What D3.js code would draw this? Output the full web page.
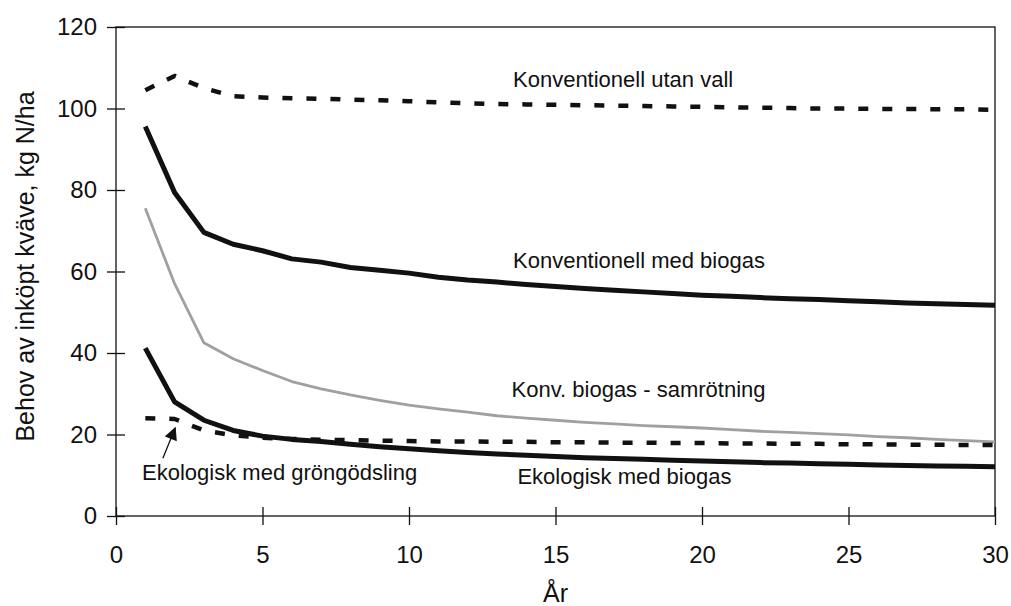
<!DOCTYPE html>
<html>
<head>
<meta charset="utf-8">
<script src="https://cdn.jsdelivr.net/npm/d3@7"></script>
<style>
  body { margin: 0; background: #fff; }
  text { font-family: "Liberation Sans", Arial, sans-serif; fill: #111; }
  .axis path, .axis line { stroke: #111; stroke-width: 1.3; }
  .axis text { font-size: 24px; }
</style>
</head>
<body>
<script>
// Years on x axis
var years = d3.range(1, 31);

// Series values, kg N/ha
var konvUtanVall = [104.5, 108, 105, 103, 102.7, 102.5, 102.4, 102.2, 102, 101.8,
  101.5, 101.3, 101.1, 101, 100.9, 100.8, 100.7, 100.6, 100.5, 100.4,
  100.3, 100.2, 100.1, 100, 100, 99.9, 99.9, 99.8, 99.8, 99.7];
var konvMedBiogas = [95.6, 79.4, 69.6, 66.7, 65.1, 63.1, 62.3, 61, 60.3, 59.6,
  58.6, 57.9, 57.4, 56.8, 56.3, 55.8, 55.4, 55, 54.6, 54.2,
  53.9, 53.6, 53.3, 53.1, 52.8, 52.6, 52.3, 52.1, 51.9, 51.7];
var konvSamrotning = [75.5, 57, 42.5, 38.6, 35.7, 33, 31.2, 29.7, 28.4, 27.2,
  26.3, 25.5, 24.6, 24, 23.5, 23, 22.6, 22.2, 21.9, 21.6,
  21.2, 20.8, 20.5, 20.2, 19.9, 19.5, 19.2, 18.8, 18.5, 18.2];
var ekoMedBiogas = [41.2, 28, 23.5, 21, 19.6, 18.8, 18.3, 17.6, 17, 16.5,
  16, 15.6, 15.2, 14.9, 14.6, 14.3, 14.1, 13.9, 13.7, 13.5,
  13.3, 13.1, 13, 12.8, 12.7, 12.5, 12.4, 12.3, 12.2, 12.1];
var ekoGrongodsling = [24, 23.8, 21, 19.8, 19.2, 18.9, 18.7, 18.6, 18.5, 18.4,
  18.3, 18.3, 18.2, 18.2, 18.1, 18.1, 18, 18, 17.9, 17.9,
  17.8, 17.8, 17.7, 17.7, 17.6, 17.6, 17.5, 17.5, 17.4, 17.4];

var xTicks = [0, 5, 10, 15, 20, 25, 30];
var yTicks = [0, 20, 40, 60, 80, 100, 120];

var margin = {top: 27, right: 16, bottom: 90, left: 116},
    width = 1011 - margin.left - margin.right,
    height = 606 - margin.top - margin.bottom;

var x = d3.scaleLinear().domain([0, 30]).range([0, width]);
var y = d3.scaleLinear().domain([0, 120]).range([height, 0]);

var svg = d3.select("body")
    .append("svg")
    .attr("width", 1011)
    .attr("height", 606)
    .append("g")
    .attr("transform", "translate(" + margin.left + "," + margin.top + ")");

// Frame
svg.append("rect")
    .attr("width", width)
    .attr("height", height)
    .attr("fill", "none")
    .attr("stroke", "#111")
    .attr("stroke-width", 1.3);

// Axes with ticks crossing the line
var xAxis = svg.append("g")
    .attr("class", "axis")
    .attr("transform", "translate(0," + height + ")")
    .call(d3.axisBottom(x).tickValues(xTicks).tickSizeInner(9).tickSizeOuter(0).tickPadding(21));
xAxis.selectAll(".tick line").attr("y1", -9);
xAxis.select(".domain").remove();

var yAxis = svg.append("g")
    .attr("class", "axis")
    .call(d3.axisLeft(y).tickValues(yTicks).tickSizeInner(9).tickSizeOuter(0).tickPadding(10));
yAxis.selectAll(".tick line").attr("x1", 9);
yAxis.select(".domain").remove();

// Axis titles
svg.append("text")
    .attr("x", x(15))
    .attr("y", height + 86)
    .style("text-anchor", "middle")
    .style("font-size", "25px")
    .text("År");

svg.append("text")
    .attr("transform", "translate(" + (-82) + "," + (height / 2 - 5) + ") rotate(-90)")
    .style("text-anchor", "middle")
    .style("font-size", "25px")
    .text("Behov av inköpt kväve, kg N/ha");

var line = d3.line()
    .x(function(d, i) { return x(years[i]); })
    .y(function(d) { return y(d); });

var series = [
  {values: konvSamrotning, color: "#a0a0a0", w: 2.8, dash: null},
  {values: konvUtanVall, color: "#111", w: 4.5, dash: "10,14"},
  {values: ekoGrongodsling, color: "#111", w: 4.5, dash: "10,14"},
  {values: konvMedBiogas, color: "#111", w: 5, dash: null},
  {values: ekoMedBiogas, color: "#111", w: 5, dash: null}
];

svg.selectAll(".series")
    .data(series)
    .enter().append("path")
      .attr("class", "series")
      .attr("d", function(d) { return line(d.values); })
      .attr("fill", "none")
      .attr("stroke", function(d) { return d.color; })
      .attr("stroke-width", function(d) { return d.w; })
      .attr("stroke-dasharray", function(d) { return d.dash; })
      .attr("stroke-linejoin", "round");

// Series labels
var labels = [
  {text: "Konventionell utan vall", xv: 13.55, yv: 105.2},
  {text: "Konventionell med biogas", xv: 13.55, yv: 60.9},
  {text: "Konv. biogas - samrötning", xv: 13.5, yv: 29.2},
  {text: "Ekologisk med biogas", xv: 13.7, yv: 7.8},
  {text: "Ekologisk med gröngödsling", xv: 0.89, yv: 8.8}
];

svg.selectAll(".label")
    .data(labels)
    .enter().append("text")
      .attr("class", "label")
      .attr("x", function(d) { return x(d.xv); })
      .attr("y", function(d) { return y(d.yv); })
      .style("font-size", "22px")
      .text(function(d) { return d.text; });

// Arrow pointing at the green manure line
svg.append("defs").append("marker")
    .attr("id", "head")
    .attr("viewBox", "0 0 10 10")
    .attr("refX", 9)
    .attr("refY", 5)
    .attr("markerWidth", 15)
    .attr("markerHeight", 13)
    .attr("markerUnits", "userSpaceOnUse")
    .attr("orient", "auto")
    .append("path")
      .attr("d", "M0,0L10,5L0,10z")
      .attr("fill", "#111");

svg.append("line")
    .attr("x1", x(1.6))
    .attr("y1", y(14.2))
    .attr("x2", x(2.02))
    .attr("y2", y(21.6))
    .attr("stroke", "#111")
    .attr("stroke-width", 1.3)
    .attr("marker-end", "url(#head)");
</script>
</body>
</html>
